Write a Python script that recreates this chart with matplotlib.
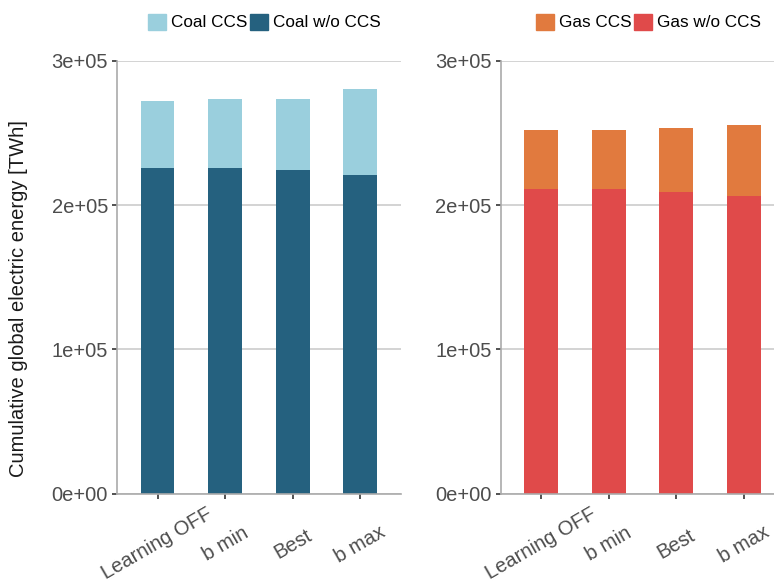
import numpy as np
import matplotlib.pyplot as plt
from matplotlib.ticker import FuncFormatter
from matplotlib.patches import Patch

plt.rcParams['font.family'] = ['Liberation Sans', 'DejaVu Sans']

scenarios = ["Learning OFF", "b min", "Best", "b max"]
coal_wo_ccs = [225900, 225900, 224500, 221000]
coal_ccs = [46400, 47800, 49200, 59600]
gas_wo_ccs = [211300, 211300, 209200, 206500]
gas_ccs = [40900, 40900, 44400, 49200]

fs = 14.5
fig = plt.figure(figsize=(7.74, 5.87), dpi=100)
ax1 = fig.add_axes([117/774, 1 - 493.5/587, 283.7/774, 432.5/587])
ax2 = fig.add_axes([500.7/774, 1 - 493.5/587, 283.7/774, 432.5/587])

panels = [
    (ax1, coal_wo_ccs, coal_ccs, "#25617f", "#9acfdd", "Coal"),
    (ax2, gas_wo_ccs, gas_ccs, "#e04a4a", "#e17a3e", "Gas"),
]

x = np.arange(len(scenarios))
for ax, base, ccs, c_base, c_ccs, name in panels:
    ax.bar(x, base, width=0.5, color=c_base, zorder=2)
    ax.bar(x, ccs, width=0.5, bottom=base, color=c_ccs, zorder=2)
    ax.set_xlim(-0.6, 3.6)
    ax.set_ylim(0, 300000)
    ax.set_yticks([0, 100000, 200000, 300000])
    ax.yaxis.set_major_formatter(FuncFormatter(lambda v, p: f"{v:.0e}"))
    ax.set_xticks(x)
    ax.set_xticklabels(scenarios, rotation=30, ha='center', va='center',
                       rotation_mode='anchor')
    ax.grid(axis='y', color='#cccccc', linewidth=1.2, zorder=0)
    for s in ['top', 'right']:
        ax.spines[s].set_visible(False)
    for s in ['left', 'bottom']:
        ax.spines[s].set_color('#aaaaaa')
        ax.spines[s].set_linewidth(1.2)
    ax.tick_params(length=3.5, width=1.2, color='#333333', labelcolor='#4d4d4d',
                   labelsize=fs, pad=3)
    ax.tick_params(axis='x', pad=33)
    handles = [Patch(color=c_ccs, label=f"{name} CCS"),
               Patch(color=c_base, label=f"{name} w/o CCS")]
    ax.legend(handles=handles, loc='center', bbox_to_anchor=(0.52, 1.09), ncol=2,
              frameon=False, fontsize=12.3, handlelength=1.06, handleheight=1.06,
              handletextpad=0.28, columnspacing=0.16, borderaxespad=0)

ax1.set_ylabel("Cumulative global electric energy [TWh]", fontsize=fs, color='#1a1a1a')
ax1.yaxis.set_label_coords(-0.314, 0.45)

fig.savefig("out.png", dpi=100)
